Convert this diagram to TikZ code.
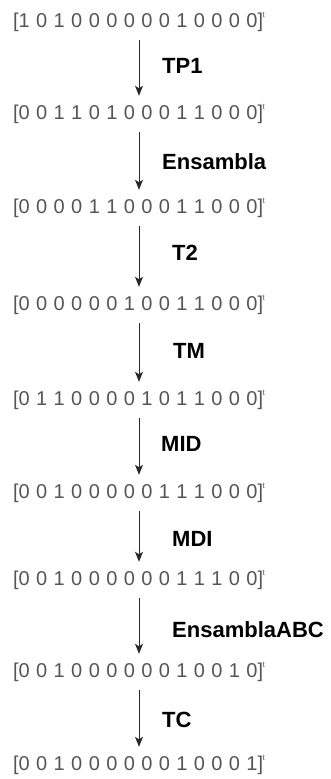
\documentclass[tikz,border=0pt]{standalone}
\usepackage{fontspec}
\setmainfont{Liberation Sans}
\usetikzlibrary{arrows.meta}
\definecolor{vecgray}{RGB}{85,85,85}
\definecolor{arrowgray}{RGB}{40,40,40}
% a bit vector written as [d d d ... d]^t
\newcommand{\bitvec}[1]{{\spaceskip=0.32em\relax[#1]\kern-0.5pt\raisebox{0.5em}{\fontsize{8}{8}\selectfont t}}}
\tikzset{
  vecrow/.style={font=\fontsize{20}{20}\selectfont, text=vecgray, inner sep=0pt,
                 minimum height=36pt, anchor=center},
  oplabel/.style={font=\fontsize{22}{22}\selectfont\bfseries, text=black, inner sep=0pt, anchor=west},
  stepline/.style={draw=arrowgray, line width=1pt,
                   -{Stealth[length=10pt,width=8pt,inset=2.5pt]}}
}
\begin{document}
\begin{tikzpicture}[x=1pt,y=1pt]
  \useasboundingbox (0,0) rectangle (331,779);
  % rows of the vector, top to bottom
  \node[vecrow] (r1) at (139,757) {\bitvec{1 0 1 0 0 0 0 0 0 1 0 0 0 0}};
  \node[vecrow] (r2) at (139,665) {\bitvec{0 0 1 1 0 1 0 0 0 1 1 0 0 0}};
  \node[vecrow] (r3) at (139,571) {\bitvec{0 0 0 0 1 1 0 0 0 1 1 0 0 0}};
  \node[vecrow] (r4) at (139,474) {\bitvec{0 0 0 0 0 0 1 0 0 1 1 0 0 0}};
  \node[vecrow] (r5) at (139,379) {\bitvec{0 1 1 0 0 0 0 1 0 1 1 0 0 0}};
  \node[vecrow] (r6) at (139,286) {\bitvec{0 0 1 0 0 0 0 0 1 1 1 0 0 0}};
  \node[vecrow] (r7) at (139,199) {\bitvec{0 0 1 0 0 0 0 0 0 1 1 1 0 0}};
  \node[vecrow] (r8) at (139,107) {\bitvec{0 0 1 0 0 0 0 0 0 1 0 0 1 0}};
  \node[vecrow] (r9) at (139,14)  {\bitvec{0 0 1 0 0 0 0 0 0 1 0 0 0 1}};
  % transformation steps
  \foreach \a/\b in {r1/r2,r2/r3,r3/r4,r4/r5,r5/r6,r6/r7,r7/r8,r8/r9}
    \draw[stepline] (\a.south) -- (\b.north);
  % step names
  \node[oplabel] (l1) at (162,713) {TP1};
  \node[oplabel] (l2) at (162,617) {Ensambla};
  \node[oplabel] (l3) at (172,526) {T2};
  \node[oplabel] (l4) at (173,428) {TM};
  \node[oplabel] (l5) at (161,335) {MID};
  \node[oplabel] (l6) at (172,240) {MDI};
  \node[oplabel] (l7) at (172,149) {EnsamblaABC};
  \node[oplabel] (l8) at (162,59)  {TC};
\end{tikzpicture}
\end{document}
